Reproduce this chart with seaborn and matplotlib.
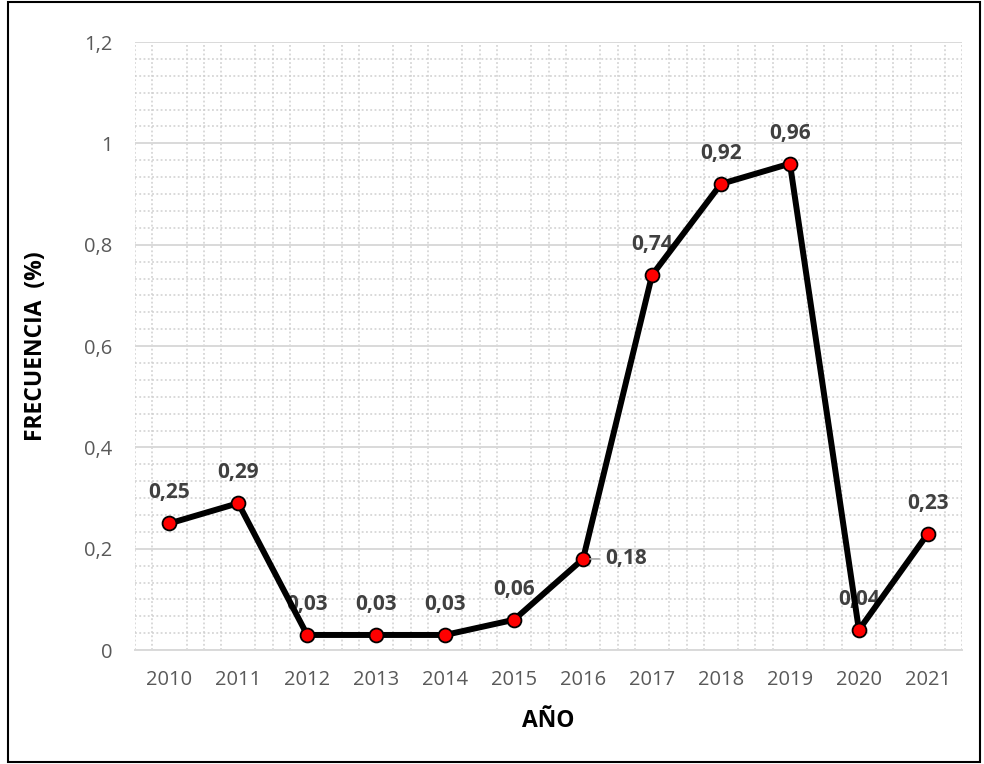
import matplotlib
matplotlib.use("Agg")
import matplotlib.pyplot as plt
from matplotlib.ticker import AutoMinorLocator
from matplotlib.patches import Rectangle
import seaborn as sns

# datos
anios = ["2010", "2011", "2012", "2013", "2014", "2015",
         "2016", "2017", "2018", "2019", "2020", "2021"]
frecuencia = [0.25, 0.29, 0.03, 0.03, 0.03, 0.06, 0.18, 0.74, 0.92, 0.96, 0.04, 0.23]
etiquetas = ["0,25", "0,29", "0,03", "0,03", "0,03", "0,06",
             "0,18", "0,74", "0,92", "0,96", "0,04", "0,23"]
y_ticks = [0, 0.2, 0.4, 0.6, 0.8, 1.0, 1.2]
y_tick_labels = ["0", "0,2", "0,4", "0,6", "0,8", "1", "1,2"]

sns.set_style("white")
plt.rcParams["font.family"] = ["Open Sans", "DejaVu Sans"]

fig = plt.figure(figsize=(9.84, 7.64), dpi=100)
ax = fig.add_axes([0.137, 0.149, 0.841, 0.796])

sns.lineplot(x=anios, y=frecuencia, ax=ax, color="black", linewidth=4.3,
             marker="o", markersize=10, markerfacecolor="#ff0000",
             markeredgecolor="black", markeredgewidth=1.3, zorder=3)

ax.set_xlim(-0.5, len(anios) - 0.5)
ax.set_ylim(0, 1.2)
ax.set_yticks(y_ticks)
ax.set_yticklabels(y_tick_labels)

# rejilla principal y secundaria
ax.yaxis.set_minor_locator(AutoMinorLocator(6))
ax.xaxis.set_minor_locator(AutoMinorLocator(4))
ax.grid(True, which="major", axis="y", color="#d9d9d9", linewidth=1.4, zorder=0)
ax.grid(True, which="minor", axis="both", color="#cfcfcf", linewidth=1.1,
        linestyle=(0, (1.2, 1.6)), zorder=0)
ax.set_axisbelow(True)

for s in ["top", "right", "left"]:
    ax.spines[s].set_visible(False)
ax.spines["bottom"].set_color("#d9d9d9")
ax.spines["bottom"].set_linewidth(1.4)

ax.tick_params(axis="both", which="both", length=0, labelsize=14.5,
               labelcolor="#595959")
ax.tick_params(axis="x", pad=14)
ax.tick_params(axis="y", pad=16)

# etiquetas de datos
for i, (v, t) in enumerate(zip(frecuencia, etiquetas)):
    if t == "0,18":
        ax.annotate(t, xy=(i, v), xytext=(16, 0), textcoords="offset points",
                    ha="left", va="center", fontsize=15, fontweight="bold",
                    color="#404040",
                    arrowprops=dict(arrowstyle="-", color="#a6a6a6", lw=1.2,
                                    shrinkA=2, shrinkB=5))
    else:
        ax.annotate(t, xy=(i, v), xytext=(0, 22), textcoords="offset points",
                    ha="center", va="center", fontsize=15, fontweight="bold",
                    color="#404040", zorder=2)

ax.set_xlabel("AÑO", fontsize=16.5, fontweight="bold", color="black", labelpad=14)
ax.set_ylabel("FRECUENCIA  (%)", fontsize=16.5, fontweight="bold", color="black",
              labelpad=26)

# marco de la figura
fig.patches.append(Rectangle((0.008, 0.003), 0.988, 0.994, transform=fig.transFigure,
                             fill=False, edgecolor="black", linewidth=1.5))

fig.savefig("out.png", dpi=100)
